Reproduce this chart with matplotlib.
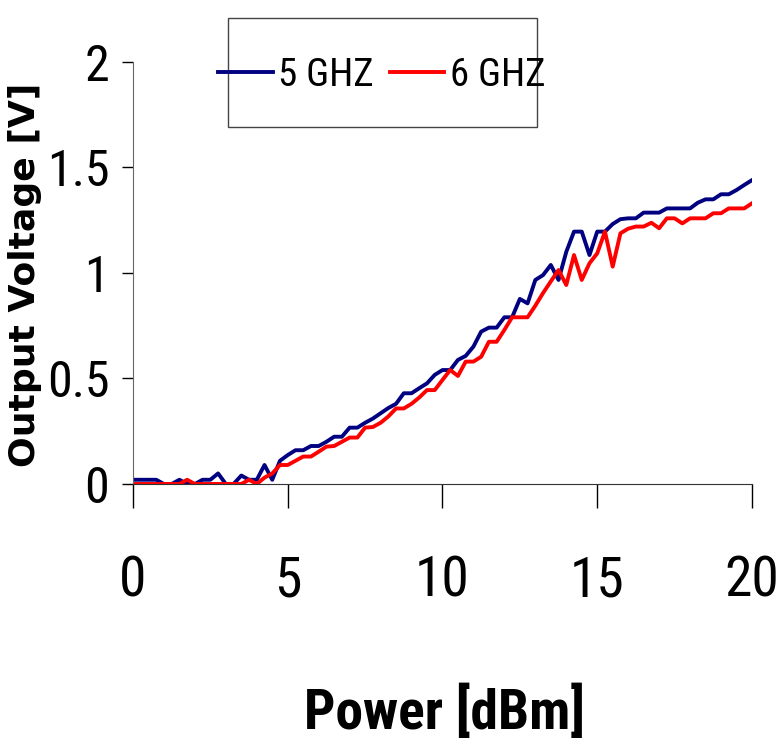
import os
import numpy as np
import matplotlib
matplotlib.use("Agg")
import matplotlib.pyplot as plt
from matplotlib import font_manager
from matplotlib.patches import Rectangle

# power sweep in dBm, 0.25 dB steps
power = np.arange(0, 20.01, 0.25)

volt_5ghz = [0.02, 0.02, 0.02, 0.02, 0.0, 0.0, 0.02, 0.0,
             0.0, 0.02, 0.02, 0.05, 0.0, 0.0, 0.04, 0.02,
             0.02, 0.09, 0.02, 0.11, 0.137, 0.16, 0.16, 0.18,
             0.18, 0.20, 0.224, 0.224, 0.267, 0.267, 0.29, 0.31,
             0.335, 0.36, 0.38, 0.43, 0.43, 0.454, 0.477, 0.517,
             0.54, 0.54, 0.588, 0.607, 0.651, 0.722, 0.741, 0.741,
             0.79, 0.79, 0.877, 0.856, 0.967, 0.99, 1.038, 0.967,
             1.10, 1.196, 1.196, 1.085, 1.196, 1.196, 1.232, 1.255,
             1.259, 1.259, 1.286, 1.286, 1.286, 1.306, 1.306, 1.306,
             1.306, 1.333, 1.349, 1.349, 1.373, 1.373, 1.393, 1.417,
             1.44]

volt_6ghz = [0.0, 0.0, 0.0, 0.0, 0.0, 0.0, 0.0, 0.02,
             0.0, 0.0, 0.0, 0.0, 0.0, 0.0, 0.0, 0.02,
             0.0, 0.03, 0.05, 0.09, 0.09, 0.11, 0.13, 0.13,
             0.153, 0.177, 0.18, 0.20, 0.22, 0.22, 0.267, 0.27,
             0.29, 0.32, 0.358, 0.358, 0.38, 0.41, 0.445, 0.445,
             0.493, 0.54, 0.512, 0.58, 0.58, 0.603, 0.674, 0.674,
             0.73, 0.79, 0.79, 0.79, 0.845, 0.905, 0.96, 1.014,
             0.943, 1.085, 0.967, 1.046, 1.093, 1.196, 1.03, 1.188,
             1.21, 1.22, 1.22, 1.238, 1.212, 1.259, 1.259, 1.235,
             1.259, 1.259, 1.259, 1.283, 1.283, 1.306, 1.306, 1.306,
             1.33]

x_ticks = [0, 5, 10, 15, 20]
y_ticks = [0, 0.5, 1, 1.5, 2]
y_ticklabels = ['0', '0.5', '1', '1.5', '2']


# look for a narrow font (the original uses Arial Narrow)
def narrow_font(names):
    files = {os.path.basename(f.fname): f.fname for f in font_manager.fontManager.ttflist}
    for n in names:
        if n in files:
            return font_manager.FontProperties(fname=files[n])
    return font_manager.FontProperties(family='DejaVu Sans', stretch='condensed')


fp_reg = narrow_font(['NotoSans-ExtraCondensed.ttf', 'LiberationSansNarrow-Regular.ttf',
                      'RobotoCondensed-Regular.ttf', 'NotoSans-Condensed.ttf',
                      'DejaVuSansCondensed.ttf'])
fp_bold = narrow_font(['NotoSans-ExtraCondensedBold.ttf', 'LiberationSansNarrow-Bold.ttf',
                       'RobotoCondensed-Bold.ttf', 'NotoSans-CondensedBold.ttf',
                       'DejaVuSansCondensed-Bold.ttf'])

fig = plt.figure(figsize=(7.79, 7.52), dpi=100)
ax = fig.add_axes([0.1707, 0.3564, 0.7946, 0.5612])

ax.plot(power, volt_5ghz, color='#000080', lw=2.8, label='5 GHZ')
ax.plot(power, volt_6ghz, color='#ff0000', lw=2.8, label='6 GHZ')

ax.set_xlim(0, 20)
ax.set_ylim(0, 2)
ax.set_xticks(x_ticks)
ax.set_yticks(y_ticks)
ax.set_yticklabels(y_ticklabels)

for s in ['top', 'right']:
    ax.spines[s].set_visible(False)
ax.spines['left'].set_color('#666666')
ax.spines['bottom'].set_color('#333333')

ax.tick_params(axis='x', direction='out', length=17, width=1, pad=34)
ax.tick_params(axis='y', direction='out', length=8, width=1, pad=9)
for lab in ax.get_xticklabels():
    lab.set_fontproperties(fp_reg)
    lab.set_fontsize(40)
for lab in ax.get_yticklabels():
    lab.set_fontproperties(fp_reg)
    lab.set_fontsize(36)

fig.text(0.032, 0.634, 'Output Voltage [V]', rotation=90, ha='center', va='center',
         fontsize=26, fontweight='bold')
xl = fig.text(0.571, 0.053, 'Power [dBm]', ha='center', va='center', fontproperties=fp_bold)
xl.set_fontsize(40)

# legend frame
fig.patches.append(Rectangle((228 / 779, 1 - 127 / 752), 309 / 779, 109 / 752,
                             transform=fig.transFigure, fill=False,
                             edgecolor='#444444', lw=1))
leg_prop = fp_reg.copy()
leg_prop.set_size(28)
fig.legend(loc='center', bbox_to_anchor=(0.49, 0.9), ncol=2, frameon=False,
           prop=leg_prop, handlelength=1.4, handletextpad=0.15, columnspacing=0.4)

fig.savefig('out.png', dpi=100)
